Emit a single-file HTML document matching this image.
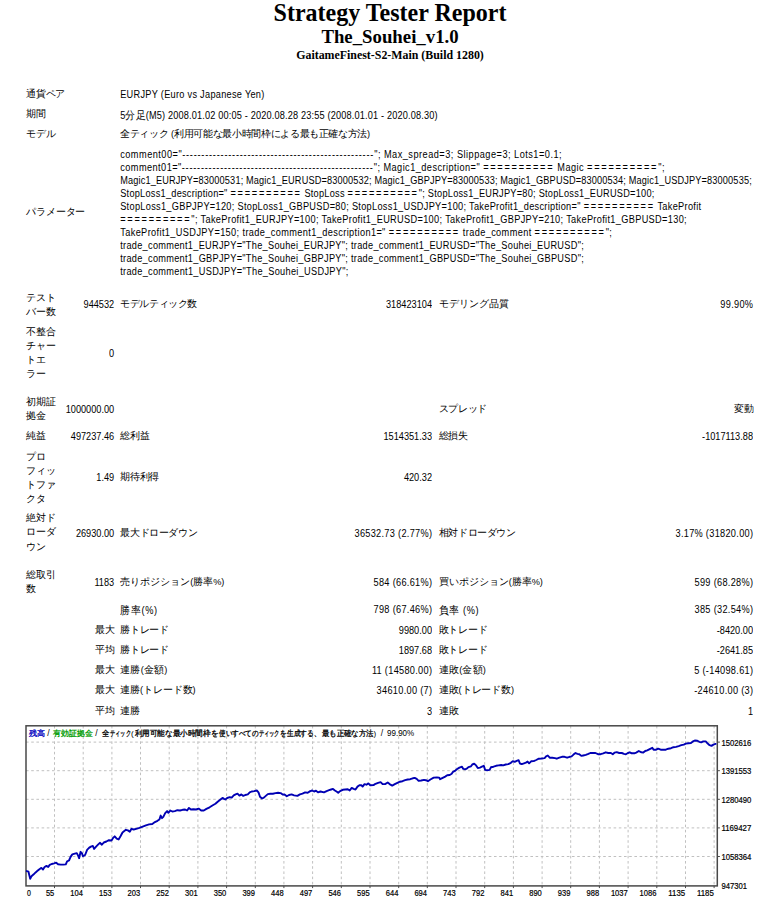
<!DOCTYPE html>
<html lang="ja"><head><meta charset="utf-8"><title>Strategy Tester: The_Souhei_v1.0</title>
<style>
html,body{margin:0;padding:0;background:#fff;}
body{width:777px;height:904px;position:relative;overflow:hidden;font-family:"Liberation Sans",sans-serif;color:#000;}
.h{position:absolute;left:1.5px;width:777px;text-align:center;font-family:"Liberation Serif",serif;font-weight:bold;white-space:nowrap;}
.h1{top:-0.3px;font-size:24px;line-height:27px;transform:scaleY(1.06);transform-origin:50% 70%;}
.h2{top:26px;font-size:18.8px;line-height:22px;}
.h3{top:47.5px;font-size:11.9px;line-height:14px;}
.t{position:absolute;font-size:9.2px;line-height:13.0px;white-space:nowrap;}
.m{line-height:14.1px;}
.j{font-size:9.7px;}
.r{text-align:right;}
.s{transform:scaleY(1.11);transform-origin:0 50%;}
.chart{position:absolute;left:0;top:0;}
</style></head><body>
<div class="h h1">Strategy Tester Report</div>
<div class="h h2">The_Souhei_v1.0</div>
<div class="h h3">GaitameFinest-S2-Main (Build 1280)</div>
<div class="t" style="left:26.3px;top:86.6px;"><span class="j" style="letter-spacing:-0.30px">通貨ペア</span></div>
<div class="t s" style="left:120.2px;top:88.7px;letter-spacing:0.283px;">EURJPY (Euro vs Japanese Yen)</div>
<div class="t" style="left:26.3px;top:106.9px;letter-spacing:-0.100px;"><span class="j">期間</span></div>
<div class="t s" style="left:120.2px;top:109.0px;letter-spacing:0.160px;">5<span class="j">分足</span>(M5) 2008.01.02 00:05 - 2020.08.28 23:55 (2008.01.01 - 2020.08.30)</div>
<div class="t" style="left:26.3px;top:127.2px;letter-spacing:-0.233px;"><span class="j">モデル</span></div>
<div class="t" style="left:120.2px;top:127.2px;"><span class="j" style="letter-spacing:-0.35px">全ティック</span> (<span class="j" style="letter-spacing:-0.35px">利用可能な最小時間枠による最も正確な方法</span>)</div>
<div class="t" style="left:26.3px;top:205.1px;"><span class="j" style="letter-spacing:-0.17px">パラメーター</span></div>
<div class="t s" style="left:120.2px;top:148.5px;letter-spacing:0.485px">comment00=&quot;<span style="letter-spacing:0.78px">--------------------------------------------------</span>&quot;; Max_spread=3; Slippage=3; Lots1=0.1;</div>
<div class="t s" style="left:120.2px;top:161.5px;letter-spacing:0.446px">comment01=&quot;<span style="letter-spacing:0.78px">--------------------------------------------------</span>&quot;; Magic1_description=&quot; <span style="letter-spacing:1.75px">==========</span> Magic <span style="letter-spacing:1.75px">==========</span>&quot;;</div>
<div class="t s" style="left:120.2px;top:174.6px;letter-spacing:0.147px">Magic1_EURJPY=83000531; Magic1_EURUSD=83000532; Magic1_GBPJPY=83000533; Magic1_GBPUSD=83000534; Magic1_USDJPY=83000535;</div>
<div class="t s" style="left:120.2px;top:187.6px;letter-spacing:0.255px">StopLoss1_description=&quot; <span style="letter-spacing:1.75px">==========</span> StopLoss <span style="letter-spacing:1.75px">==========</span>&quot;; StopLoss1_EURJPY=80; StopLoss1_EURUSD=100;</div>
<div class="t s" style="left:120.2px;top:200.6px;letter-spacing:0.305px">StopLoss1_GBPJPY=120; StopLoss1_GBPUSD=80; StopLoss1_USDJPY=100; TakeProfit1_description=&quot; <span style="letter-spacing:1.75px">==========</span> TakeProfit</div>
<div class="t s" style="left:120.2px;top:213.6px;letter-spacing:0.336px"><span style="letter-spacing:1.75px">==========</span>&quot;; TakeProfit1_EURJPY=100; TakeProfit1_EURUSD=100; TakeProfit1_GBPJPY=210; TakeProfit1_GBPUSD=130;</div>
<div class="t s" style="left:120.2px;top:226.7px;letter-spacing:0.382px">TakeProfit1_USDJPY=150; trade_comment1_description1=&quot; <span style="letter-spacing:1.75px">==========</span> trade_comment <span style="letter-spacing:1.75px">==========</span>&quot;;</div>
<div class="t s" style="left:120.2px;top:239.7px;letter-spacing:0.293px">trade_comment1_EURJPY=&quot;The_Souhei_EURJPY&quot;; trade_comment1_EURUSD=&quot;The_Souhei_EURUSD&quot;;</div>
<div class="t s" style="left:120.2px;top:252.7px;letter-spacing:0.293px">trade_comment1_GBPJPY=&quot;The_Souhei_GBPJPY&quot;; trade_comment1_GBPUSD=&quot;The_Souhei_GBPUSD&quot;;</div>
<div class="t s" style="left:120.2px;top:265.8px;letter-spacing:0.303px">trade_comment1_USDJPY=&quot;The_Souhei_USDJPY&quot;;</div>
<div class="t m" style="left:26.3px;top:290.9px"><span class="j" style="letter-spacing:-0.30px">テスト</span><br><span class="j" style="letter-spacing:-0.30px">バー数</span></div>
<div class="t r s" style="right:662.8px;top:298.9px;letter-spacing:0px">944532</div>
<div class="t" style="left:120.2px;top:296.8px;"><span class="j" style="letter-spacing:-0.41px">モデルティック数</span></div>
<div class="t r s" style="right:345.0px;top:298.9px;letter-spacing:0px">318423104</div>
<div class="t" style="left:438.8px;top:296.8px;"><span class="j" style="letter-spacing:-0.04px">モデリング品質</span></div>
<div class="t r s" style="right:23.7px;top:298.9px;letter-spacing:0.3px">99.90%</div>
<div class="t m" style="left:26.3px;top:324.9px"><span class="j" style="letter-spacing:-0.30px">不整合</span><br><span class="j" style="letter-spacing:-0.30px">チャー</span><br><span class="j" style="letter-spacing:-0.30px">トエ</span><br><span class="j" style="letter-spacing:-0.30px">ラー</span></div>
<div class="t r s" style="right:662.8px;top:347.5px;letter-spacing:0px">0</div>
<div class="t m" style="left:26.3px;top:394.9px"><span class="j" style="letter-spacing:-0.30px">初期証</span><br><span class="j" style="letter-spacing:-0.30px">拠金</span></div>
<div class="t r s" style="right:662.8px;top:404.1px;letter-spacing:0px">1000000.00</div>
<div class="t" style="left:438.8px;top:402.0px;"><span class="j" style="letter-spacing:-0.34px">スプレッド</span></div>
<div class="t r" style="right:23.5px;top:402.0px;"><span class="j">変動</span></div>
<div class="t" style="left:26.3px;top:428.9px;letter-spacing:-0.700px;"><span class="j">純益</span></div>
<div class="t r s" style="right:662.8px;top:431.0px;letter-spacing:0px">497237.46</div>
<div class="t" style="left:120.2px;top:428.9px;letter-spacing:-0.300px;"><span class="j">総利益</span></div>
<div class="t r s" style="right:345.0px;top:431.0px;letter-spacing:0px">1514351.33</div>
<div class="t" style="left:438.8px;top:428.9px;letter-spacing:-0.300px;"><span class="j">総損失</span></div>
<div class="t r s" style="right:24.0px;top:431.0px;letter-spacing:0px">-1017113.88</div>
<div class="t m" style="left:26.3px;top:449.6px"><span class="j" style="letter-spacing:-0.30px">プロ</span><br><span class="j" style="letter-spacing:-0.30px">フィッ</span><br><span class="j" style="letter-spacing:-0.30px">トファ</span><br><span class="j" style="letter-spacing:-0.30px">クタ</span></div>
<div class="t r s" style="right:662.8px;top:472.0px;letter-spacing:0px">1.49</div>
<div class="t" style="left:120.2px;top:469.9px;"><span class="j" style="letter-spacing:-0.25px">期待利得</span></div>
<div class="t r s" style="right:345.0px;top:472.0px;letter-spacing:0px">420.32</div>
<div class="t m" style="left:26.3px;top:511.4px"><span class="j" style="letter-spacing:-0.30px">絶対ド</span><br><span class="j" style="letter-spacing:-0.30px">ローダ</span><br><span class="j" style="letter-spacing:-0.30px">ウン</span></div>
<div class="t r s" style="right:662.8px;top:528.0px;letter-spacing:0px">26930.00</div>
<div class="t" style="left:120.2px;top:525.9px;"><span class="j" style="letter-spacing:-0.34px">最大ドローダウン</span></div>
<div class="t r s" style="right:344.7px;top:528.0px;letter-spacing:0.3px">36532.73 (2.77%)</div>
<div class="t" style="left:438.8px;top:525.9px;"><span class="j" style="letter-spacing:-0.41px">相対ドローダウン</span></div>
<div class="t r s" style="right:23.7px;top:528.0px;letter-spacing:0.3px">3.17% (31820.00)</div>
<div class="t m" style="left:26.3px;top:568.2px"><span class="j" style="letter-spacing:-0.30px">総取引</span><br><span class="j" style="letter-spacing:-0.30px">数</span></div>
<div class="t r s" style="right:662.8px;top:577.0px;letter-spacing:0px">1183</div>
<div class="t" style="left:120.2px;top:574.9px;"><span class="j" style="letter-spacing:-0.01px">売りポジション</span>(<span class="j" style="letter-spacing:-0.01px">勝率</span>%)</div>
<div class="t r s" style="right:344.7px;top:577.0px;letter-spacing:0.3px">584 (66.61%)</div>
<div class="t" style="left:438.8px;top:574.9px;"><span class="j" style="letter-spacing:-0.02px">買いポジション</span>(<span class="j" style="letter-spacing:-0.02px">勝率</span>%)</div>
<div class="t r s" style="right:23.7px;top:577.0px;letter-spacing:0.3px">599 (68.28%)</div>
<div class="t s" style="left:120.2px;top:604.1px;letter-spacing:0.661px;"><span class="j">勝率</span>(%)</div>
<div class="t r s" style="right:344.7px;top:604.1px;letter-spacing:0.3px">798 (67.46%)</div>
<div class="t s" style="left:438.8px;top:604.1px;letter-spacing:0.576px;"><span class="j">負率</span> (%)</div>
<div class="t r s" style="right:23.7px;top:604.1px;letter-spacing:0.3px">385 (32.54%)</div>
<div class="t r" style="right:662.3px;top:622.7px;"><span class="j">最大</span></div>
<div class="t" style="left:120.2px;top:622.7px;"><span class="j" style="letter-spacing:-0.32px">勝トレード</span></div>
<div class="t r s" style="right:345.0px;top:624.8px;letter-spacing:0px">9980.00</div>
<div class="t" style="left:438.8px;top:622.7px;"><span class="j" style="letter-spacing:-0.32px">敗トレード</span></div>
<div class="t r s" style="right:24.0px;top:624.8px;letter-spacing:0px">-8420.00</div>
<div class="t r" style="right:662.3px;top:642.8px;"><span class="j">平均</span></div>
<div class="t" style="left:120.2px;top:642.8px;"><span class="j" style="letter-spacing:-0.32px">勝トレード</span></div>
<div class="t r s" style="right:345.0px;top:644.9px;letter-spacing:0px">1897.68</div>
<div class="t" style="left:438.8px;top:642.8px;"><span class="j" style="letter-spacing:-0.32px">敗トレード</span></div>
<div class="t r s" style="right:24.0px;top:644.9px;letter-spacing:0px">-2641.85</div>
<div class="t r" style="right:662.3px;top:662.9px;"><span class="j">最大</span></div>
<div class="t" style="left:120.2px;top:662.9px;"><span class="j" style="letter-spacing:0.22px">連勝</span>(<span class="j" style="letter-spacing:0.22px">金額</span>)</div>
<div class="t r s" style="right:344.7px;top:665.0px;letter-spacing:0.3px">11 (14580.00)</div>
<div class="t" style="left:438.8px;top:662.9px;"><span class="j" style="letter-spacing:0.22px">連敗</span>(<span class="j" style="letter-spacing:0.22px">金額</span>)</div>
<div class="t r s" style="right:23.7px;top:665.0px;letter-spacing:0.3px">5 (-14098.61)</div>
<div class="t r" style="right:662.3px;top:682.9px;"><span class="j">最大</span></div>
<div class="t" style="left:120.2px;top:682.9px;"><span class="j" style="letter-spacing:-0.12px">連勝</span>(<span class="j" style="letter-spacing:-0.12px">トレード数</span>)</div>
<div class="t r s" style="right:344.7px;top:685.0px;letter-spacing:0.3px">34610.00 (7)</div>
<div class="t" style="left:438.8px;top:682.9px;"><span class="j" style="letter-spacing:-0.12px">連敗</span>(<span class="j" style="letter-spacing:-0.12px">トレード数</span>)</div>
<div class="t r s" style="right:23.7px;top:685.0px;letter-spacing:0.3px">-24610.00 (3)</div>
<div class="t r" style="right:662.3px;top:703.7px;"><span class="j">平均</span></div>
<div class="t" style="left:120.2px;top:703.7px;letter-spacing:0.050px;"><span class="j">連勝</span></div>
<div class="t r s" style="right:345.0px;top:705.8px;letter-spacing:0px">3</div>
<div class="t" style="left:438.8px;top:703.7px;letter-spacing:0.050px;"><span class="j">連敗</span></div>
<div class="t r s" style="right:24.0px;top:705.8px;letter-spacing:0px">1</div>
<svg class="chart" width="777" height="904" viewBox="0 0 777 904">
<g stroke="#c0c0c0" stroke-width="1" stroke-dasharray="2.6 2.6" fill="none"><line x1="54.5" y1="725.8" x2="54.5" y2="885.9"/><line x1="83.2" y1="725.8" x2="83.2" y2="885.9"/><line x1="111.9" y1="725.8" x2="111.9" y2="885.9"/><line x1="140.5" y1="725.8" x2="140.5" y2="885.9"/><line x1="169.2" y1="725.8" x2="169.2" y2="885.9"/><line x1="197.9" y1="725.8" x2="197.9" y2="885.9"/><line x1="226.6" y1="725.8" x2="226.6" y2="885.9"/><line x1="255.3" y1="725.8" x2="255.3" y2="885.9"/><line x1="283.9" y1="725.8" x2="283.9" y2="885.9"/><line x1="312.6" y1="725.8" x2="312.6" y2="885.9"/><line x1="341.3" y1="725.8" x2="341.3" y2="885.9"/><line x1="370.0" y1="725.8" x2="370.0" y2="885.9"/><line x1="398.7" y1="725.8" x2="398.7" y2="885.9"/><line x1="427.3" y1="725.8" x2="427.3" y2="885.9"/><line x1="456.0" y1="725.8" x2="456.0" y2="885.9"/><line x1="484.7" y1="725.8" x2="484.7" y2="885.9"/><line x1="513.4" y1="725.8" x2="513.4" y2="885.9"/><line x1="542.1" y1="725.8" x2="542.1" y2="885.9"/><line x1="570.7" y1="725.8" x2="570.7" y2="885.9"/><line x1="599.4" y1="725.8" x2="599.4" y2="885.9"/><line x1="628.1" y1="725.8" x2="628.1" y2="885.9"/><line x1="656.8" y1="725.8" x2="656.8" y2="885.9"/><line x1="685.5" y1="725.8" x2="685.5" y2="885.9"/><line x1="714.1" y1="725.8" x2="714.1" y2="885.9"/><line x1="26.0" y1="742.1" x2="717.3" y2="742.1"/><line x1="26.0" y1="770.7" x2="717.3" y2="770.7"/><line x1="26.0" y1="799.3" x2="717.3" y2="799.3"/><line x1="26.0" y1="827.9" x2="717.3" y2="827.9"/><line x1="26.0" y1="856.5" x2="717.3" y2="856.5"/></g>
<rect x="26.0" y="725.8" width="691.3" height="160.1" fill="none" stroke="#484848" stroke-width="1.5"/>
<g stroke="#484848" stroke-width="1"><line x1="717.3" y1="742.1" x2="719.9" y2="742.1"/><line x1="717.3" y1="770.7" x2="719.9" y2="770.7"/><line x1="717.3" y1="799.3" x2="719.9" y2="799.3"/><line x1="717.3" y1="827.9" x2="719.9" y2="827.9"/><line x1="717.3" y1="856.5" x2="719.9" y2="856.5"/><line x1="54.5" y1="885.9" x2="54.5" y2="888.1"/><line x1="83.2" y1="885.9" x2="83.2" y2="888.1"/><line x1="111.9" y1="885.9" x2="111.9" y2="888.1"/><line x1="140.5" y1="885.9" x2="140.5" y2="888.1"/><line x1="169.2" y1="885.9" x2="169.2" y2="888.1"/><line x1="197.9" y1="885.9" x2="197.9" y2="888.1"/><line x1="226.6" y1="885.9" x2="226.6" y2="888.1"/><line x1="255.3" y1="885.9" x2="255.3" y2="888.1"/><line x1="283.9" y1="885.9" x2="283.9" y2="888.1"/><line x1="312.6" y1="885.9" x2="312.6" y2="888.1"/><line x1="341.3" y1="885.9" x2="341.3" y2="888.1"/><line x1="370.0" y1="885.9" x2="370.0" y2="888.1"/><line x1="398.7" y1="885.9" x2="398.7" y2="888.1"/><line x1="427.3" y1="885.9" x2="427.3" y2="888.1"/><line x1="456.0" y1="885.9" x2="456.0" y2="888.1"/><line x1="484.7" y1="885.9" x2="484.7" y2="888.1"/><line x1="513.4" y1="885.9" x2="513.4" y2="888.1"/><line x1="542.1" y1="885.9" x2="542.1" y2="888.1"/><line x1="570.7" y1="885.9" x2="570.7" y2="888.1"/><line x1="599.4" y1="885.9" x2="599.4" y2="888.1"/><line x1="628.1" y1="885.9" x2="628.1" y2="888.1"/><line x1="656.8" y1="885.9" x2="656.8" y2="888.1"/><line x1="685.5" y1="885.9" x2="685.5" y2="888.1"/><line x1="714.1" y1="885.9" x2="714.1" y2="888.1"/></g>
<polyline points="26.8,871.1 28.5,871.7 29.4,875.6 30.2,878.8 31.5,876.2 33.7,874.3 35.6,872.4 37.5,870.8 39.4,869.2 41.4,867.9 43.0,869.5 44.6,867.0 46.5,865.9 48.2,867.0 49.7,864.9 51.7,864.0 54.2,863.4 56.2,862.7 58.1,864.3 60.7,864.6 63.3,864.6 65.8,864.4 67.1,861.4 69.0,860.5 70.6,856.9 72.3,854.4 74.8,853.7 76.8,853.1 78.1,855.6 79.1,858.2 80.6,851.8 81.9,853.1 82.9,856.3 85.1,855.0 87.1,849.8 89.0,847.9 90.9,846.6 92.9,846.0 94.1,848.9 96.1,846.6 98.0,844.7 99.9,842.8 101.9,844.7 103.8,842.5 106.4,841.5 108.9,840.2 111.5,840.5 113.4,837.6 114.7,836.3 116.7,838.6 118.6,839.5 120.5,836.3 122.5,832.5 124.0,831.3 125.9,829.8 127.9,830.4 129.8,831.7 131.5,828.8 133.7,829.5 136.2,828.8 139.4,827.9 142.7,826.6 145.9,825.3 149.1,824.4 152.3,824.0 154.9,822.1 157.5,820.8 159.4,819.5 160.7,815.6 162.0,818.2 163.3,816.9 165.2,813.1 167.1,811.1 168.4,812.8 170.3,810.5 172.3,811.5 174.8,811.1 177.4,810.2 180.0,810.5 182.6,809.8 185.1,809.5 187.1,810.5 189.0,807.9 190.9,809.5 193.5,809.2 196.1,809.5 198.6,808.6 201.2,810.5 203.8,810.5 206.4,808.9 209.6,807.3 212.8,805.3 215.4,803.8 218.0,801.5 220.5,799.5 222.5,797.9 224.0,798.9 225.3,799.5 227.2,798.0 229.8,797.2 231.7,797.6 233.7,795.4 235.6,794.4 237.5,793.7 239.4,795.6 241.4,794.4 243.3,795.9 245.2,795.0 247.8,794.4 249.7,792.4 251.7,791.5 254.2,791.1 256.8,790.5 258.5,792.4 260.0,796.7 262.0,798.5 263.9,797.6 265.8,795.9 267.8,794.1 270.3,793.7 272.9,793.7 275.5,793.1 278.1,792.8 280.6,793.1 282.6,794.6 284.5,794.4 286.8,796.3 289.0,795.0 291.6,794.4 294.1,795.4 297.4,795.9 299.9,794.4 302.5,793.7 305.1,792.4 307.7,792.8 310.2,791.1 312.2,790.5 314.1,791.5 316.0,790.7 318.0,792.4 320.5,791.5 324.0,792.4 326.6,791.1 329.1,790.2 331.1,789.5 333.0,788.9 334.9,790.5 336.9,791.8 338.2,792.8 340.1,791.1 342.7,789.8 345.2,789.5 347.8,789.2 349.7,790.5 351.7,787.9 353.6,788.9 355.5,789.5 357.5,786.6 359.4,785.3 361.3,785.1 362.6,786.6 364.5,784.1 366.5,784.7 368.4,783.4 370.3,785.3 373.5,785.1 375.5,783.8 378.1,782.8 380.6,782.1 382.6,784.1 385.1,784.1 387.7,782.5 389.6,784.1 392.2,785.6 394.8,784.1 397.4,782.8 399.9,781.7 402.5,781.2 405.1,780.2 407.7,779.5 410.2,779.2 412.8,778.3 414.7,777.9 416.7,778.9 418.6,780.8 421.2,780.5 424.0,779.9 425.9,780.2 427.9,781.2 430.4,779.5 433.7,777.6 436.9,777.4 439.2,777.6 440.1,779.2 442.7,777.9 445.2,776.6 447.2,775.3 449.7,775.0 451.7,773.8 453.0,771.8 454.9,770.9 456.8,769.3 459.4,767.6 462.0,766.7 463.3,768.9 465.2,769.3 467.1,768.4 468.4,767.1 471.0,766.3 472.3,764.5 474.2,763.7 476.1,765.4 477.8,768.0 480.0,767.6 481.9,766.7 483.8,765.8 485.1,769.9 487.1,770.2 489.6,769.9 490.9,767.3 493.5,766.7 496.1,765.8 498.6,765.4 501.2,765.0 503.2,765.4 505.7,764.5 508.3,764.1 510.9,762.8 512.8,761.1 514.7,761.9 516.7,760.9 518.6,760.2 519.9,763.5 521.8,764.1 524.0,763.3 525.9,762.6 527.6,761.6 529.1,763.3 531.1,761.3 533.7,761.1 536.2,760.0 538.8,758.7 541.4,758.5 544.6,758.1 546.1,756.4 547.8,755.5 549.7,757.7 552.3,757.7 554.9,758.1 556.8,758.7 559.4,757.7 562.0,756.8 564.5,756.8 567.1,757.7 569.7,756.8 571.6,756.4 573.5,754.6 575.5,753.0 577.4,753.9 579.3,754.2 581.3,755.9 583.2,755.5 585.8,754.9 588.4,753.9 590.3,753.0 592.9,753.0 595.4,753.0 598.0,754.2 600.6,754.2 603.2,753.3 605.7,752.3 608.3,753.0 610.9,753.0 612.8,754.2 614.7,752.6 616.7,752.1 619.2,753.0 621.8,753.0 624.0,753.9 625.9,754.2 627.9,753.0 629.8,752.3 631.7,753.3 634.3,753.3 636.2,752.6 638.8,751.0 641.4,752.3 643.3,752.6 645.2,751.0 647.2,750.4 649.7,749.1 652.3,747.8 653.6,749.7 656.2,749.7 658.1,748.7 660.7,749.7 663.3,749.7 665.8,749.7 668.4,748.7 671.0,748.2 673.5,747.2 676.1,746.9 678.7,746.1 681.3,745.2 683.8,744.6 685.8,743.6 688.4,743.3 690.9,743.0 692.9,741.4 694.8,740.5 697.4,740.7 699.3,741.8 701.2,742.3 703.2,741.4 705.7,741.4 707.7,743.6 709.6,745.2 711.5,745.9 713.4,744.6 715.6,743.9" fill="none" stroke="#0000b4" stroke-width="1.9" stroke-linejoin="round" stroke-linecap="round"/>
<g font-family="Liberation Sans, sans-serif" font-size="8.7" fill="#000" stroke="#000" stroke-width="0.2"><text x="27" y="895.5" textLength="3.9" lengthAdjust="spacingAndGlyphs">0</text><text x="54.2" y="895.5" text-anchor="end" textLength="8.3" lengthAdjust="spacingAndGlyphs">55</text><text x="82.9" y="895.5" text-anchor="end" textLength="12.6" lengthAdjust="spacingAndGlyphs">104</text><text x="111.6" y="895.5" text-anchor="end" textLength="12.6" lengthAdjust="spacingAndGlyphs">153</text><text x="140.2" y="895.5" text-anchor="end" textLength="12.6" lengthAdjust="spacingAndGlyphs">203</text><text x="168.9" y="895.5" text-anchor="end" textLength="12.6" lengthAdjust="spacingAndGlyphs">252</text><text x="197.6" y="895.5" text-anchor="end" textLength="12.6" lengthAdjust="spacingAndGlyphs">301</text><text x="226.3" y="895.5" text-anchor="end" textLength="12.6" lengthAdjust="spacingAndGlyphs">350</text><text x="255.0" y="895.5" text-anchor="end" textLength="12.6" lengthAdjust="spacingAndGlyphs">399</text><text x="283.6" y="895.5" text-anchor="end" textLength="12.6" lengthAdjust="spacingAndGlyphs">448</text><text x="312.3" y="895.5" text-anchor="end" textLength="12.6" lengthAdjust="spacingAndGlyphs">497</text><text x="341.0" y="895.5" text-anchor="end" textLength="12.6" lengthAdjust="spacingAndGlyphs">546</text><text x="369.7" y="895.5" text-anchor="end" textLength="12.6" lengthAdjust="spacingAndGlyphs">595</text><text x="398.4" y="895.5" text-anchor="end" textLength="12.6" lengthAdjust="spacingAndGlyphs">644</text><text x="427.0" y="895.5" text-anchor="end" textLength="12.6" lengthAdjust="spacingAndGlyphs">694</text><text x="455.7" y="895.5" text-anchor="end" textLength="12.6" lengthAdjust="spacingAndGlyphs">743</text><text x="484.4" y="895.5" text-anchor="end" textLength="12.6" lengthAdjust="spacingAndGlyphs">792</text><text x="513.1" y="895.5" text-anchor="end" textLength="12.6" lengthAdjust="spacingAndGlyphs">841</text><text x="541.8" y="895.5" text-anchor="end" textLength="12.6" lengthAdjust="spacingAndGlyphs">890</text><text x="570.4" y="895.5" text-anchor="end" textLength="12.6" lengthAdjust="spacingAndGlyphs">939</text><text x="599.1" y="895.5" text-anchor="end" textLength="12.6" lengthAdjust="spacingAndGlyphs">988</text><text x="627.8" y="895.5" text-anchor="end" textLength="16.9" lengthAdjust="spacingAndGlyphs">1037</text><text x="656.5" y="895.5" text-anchor="end" textLength="16.9" lengthAdjust="spacingAndGlyphs">1086</text><text x="685.2" y="895.5" text-anchor="end" textLength="16.9" lengthAdjust="spacingAndGlyphs">1135</text><text x="713.8" y="895.5" text-anchor="end" textLength="16.9" lengthAdjust="spacingAndGlyphs">1185</text><text x="721.4" y="745.6" textLength="29.9" lengthAdjust="spacingAndGlyphs">1502616</text><text x="721.4" y="774.2" textLength="29.9" lengthAdjust="spacingAndGlyphs">1391553</text><text x="721.4" y="802.8" textLength="29.9" lengthAdjust="spacingAndGlyphs">1280490</text><text x="721.4" y="831.4" textLength="29.9" lengthAdjust="spacingAndGlyphs">1169427</text><text x="721.4" y="860.0" textLength="29.9" lengthAdjust="spacingAndGlyphs">1058364</text><text x="721.4" y="889.4" textLength="25.6" lengthAdjust="spacingAndGlyphs">947301</text></g>
<g font-family="Liberation Sans, sans-serif" font-size="8" stroke-width="0.3"><text x="28.9" y="736.0" fill="#0000c0" stroke="#0000c0" textLength="16.0" lengthAdjust="spacingAndGlyphs">残高</text><text x="47.2" y="736.0" font-size="8.7" stroke="none">/</text><text x="53.3" y="736.0" fill="#009c00" stroke="#009c00" textLength="39.5" lengthAdjust="spacingAndGlyphs">有効証拠金</text><text x="95.2" y="736.0" font-size="8.7" stroke="none">/</text><text x="102.4" y="736.0" fill="#000" stroke="#000" textLength="7.4" lengthAdjust="spacingAndGlyphs">全</text><text x="110.0" y="736.0" fill="#000" stroke="#000" textLength="20.7" lengthAdjust="spacingAndGlyphs">ティック</text><text x="131.0" y="736.0" stroke="none">(</text><text x="134.5" y="736.0" fill="#000" stroke="#000" textLength="83.7" lengthAdjust="spacingAndGlyphs">利用可能な最小時間枠を</text><text x="219.0" y="736.0" fill="#000" stroke="#000" textLength="39.5" lengthAdjust="spacingAndGlyphs">使いすべての</text><text x="258.5" y="736.0" fill="#000" stroke="#000" textLength="21.1" lengthAdjust="spacingAndGlyphs">ティック</text><text x="280.4" y="736.0" fill="#000" stroke="#000" textLength="40.1" lengthAdjust="spacingAndGlyphs">を生成する、</text><text x="321.9" y="736.0" fill="#000" stroke="#000" textLength="51.4" lengthAdjust="spacingAndGlyphs">最も正確な方法</text><text x="373.6" y="736.0" stroke="none">)</text><text x="380.8" y="736.0" font-size="8.7" stroke="none">/</text><text x="387.0" y="736.0" font-size="8.7" stroke="none" textLength="27.2" lengthAdjust="spacingAndGlyphs">99.90%</text></g>
</svg>
</body></html>
